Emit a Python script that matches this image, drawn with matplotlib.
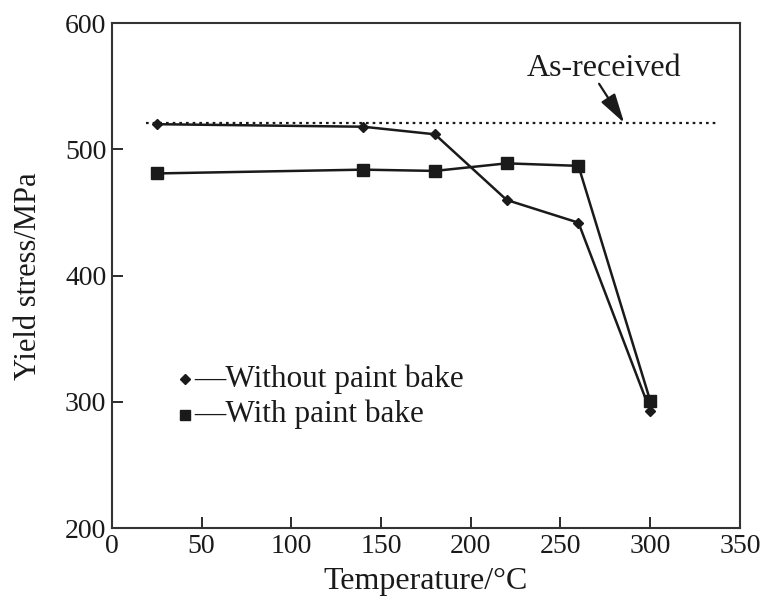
import matplotlib
matplotlib.use("Agg")
import matplotlib.pyplot as plt

plt.rcParams.update({"font.family": "Liberation Serif", "font.size": 20})

# yield stress (MPa) vs ageing temperature
temp = [25, 140, 180, 220, 260, 300]
no_bake = [520, 518, 512, 460, 442, 293]
with_bake = [481, 484, 483, 489, 487, 301]
as_received = 521
as_rec_span = [19, 338]

INK = "#1a1a1a"

fig = plt.figure(figsize=(7.66, 6.10), dpi=100)
ax = fig.add_axes([0.146, 0.134, 0.820, 0.828])

ax.plot(as_rec_span, [as_received, as_received], ls=(0, (1.2, 1.8)), lw=1.6, color=INK)
ax.plot(temp, no_bake, marker="D", ms=5, lw=1.8, color=INK)
ax.plot(temp, with_bake, marker="s", ms=8, lw=1.8, color=INK)

ax.text(274, 564, "As-received", ha="center", va="center", fontsize=23, color=INK)
ax.annotate("", xy=(285.5, as_received), xytext=(271.5, 552),
            arrowprops=dict(arrowstyle="-|>,head_length=0.9,head_width=0.25",
                            color=INK, lw=1.6, shrinkA=0, shrinkB=0))

# legend: marker then dash then label
ax.plot([40.5], [318], marker="D", ms=5, color=INK, ls="none")
ax.plot([40.5], [290], marker="s", ms=7, color=INK, ls="none")
ax.text(46, 318, "—Without paint bake", va="center", ha="left", fontsize=22.5, color=INK)
ax.text(46, 290, "—With paint bake", va="center", ha="left", fontsize=22.5, color=INK)

ax.set_xlim(0, 350)
ax.set_ylim(200, 600)
ax.set_xticks(range(0, 351, 50))
ax.set_yticks(range(200, 601, 100))
ax.tick_params(direction="in", length=8, width=1.3, colors=INK, labelsize=20,
               top=False, right=False, pad=4)
for s in ax.spines.values():
    s.set_linewidth(1.5)
    s.set_color("#333333")
ax.set_xlabel("Temperature/°C", fontsize=23, color=INK, labelpad=6)
ax.set_ylabel("Yield stress/MPa", fontsize=22, color=INK, labelpad=16)

fig.savefig("out.png", dpi=100, facecolor="white")
